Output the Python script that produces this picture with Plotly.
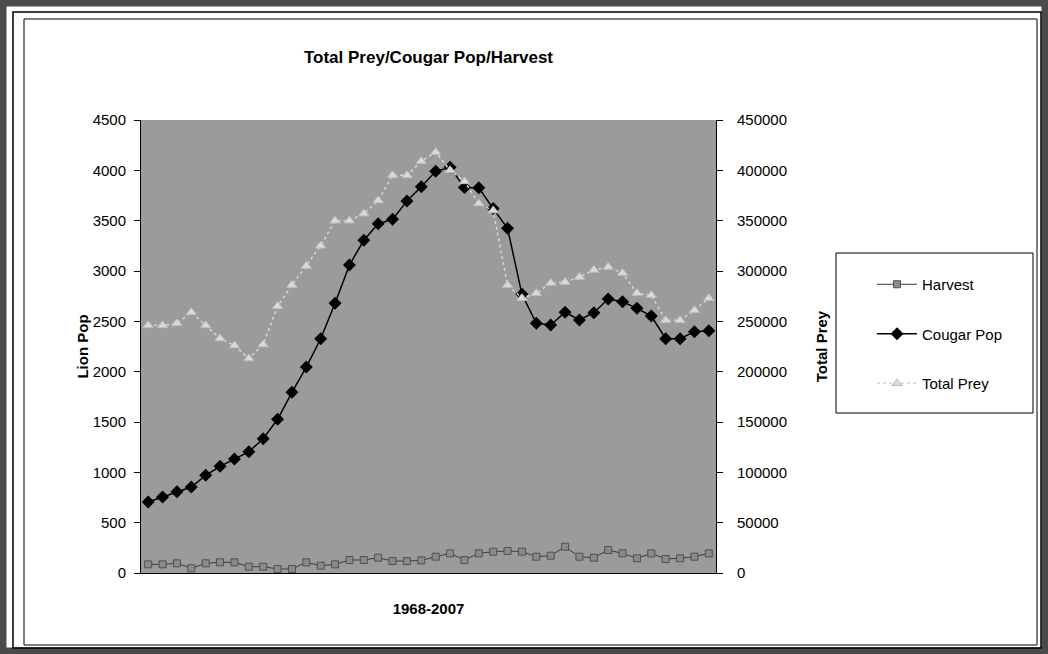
import plotly.graph_objects as go

years = list(range(1968, 2008))
harvest = [86, 86, 96, 47, 96, 106, 106, 63, 63, 40, 40, 106, 73, 86, 129, 129, 152, 119, 119, 125,
           162, 195, 129, 195, 212, 218, 212, 162, 172, 261, 162, 152, 228, 195, 146, 195, 139, 146, 162, 195]
cougar = [705, 755, 808, 854, 970, 1060, 1132, 1205, 1334, 1527, 1795, 2046, 2327, 2679, 3060, 3305, 3470, 3513, 3695, 3837,
          3990, 4030, 3830, 3827, 3620, 3424, 2768, 2480, 2463, 2590, 2513, 2586, 2722, 2695, 2629, 2553, 2327, 2327, 2397, 2407]
prey = [246000, 246000, 248000, 259000, 246000, 233000, 226000, 213000, 227000, 265000,
        286000, 305000, 325000, 350000, 350000, 357000, 370000, 395000, 395000, 409000,
        418000, 400000, 389000, 367000, 360000, 286000, 273000, 278000, 288000, 289000,
        294000, 301000, 304000, 298000, 278000, 276000, 251000, 251000, 261000, 273000]

W, H = 1048, 654
L, R, T, B = 141, 716, 120, 573


def fx(px):
    return (px - L) / (R - L)


def fy(py):
    return (B - py) / (B - T)


fig = go.Figure()
fig.add_trace(go.Scatter(
    x=years, y=harvest, name="Harvest", mode="lines+markers", legendgroup="h",
    line=dict(color="#3c3c3c", width=1),
    marker=dict(symbol="square", size=7, color="#8a8a8a", line=dict(color="#505050", width=1))))
fig.add_trace(go.Scatter(
    x=years, y=cougar, name="Cougar Pop", mode="lines+markers", legendgroup="c",
    line=dict(color="black", width=1.5),
    marker=dict(symbol="diamond", size=10, color="black")))
fig.add_trace(go.Scatter(
    x=years, y=prey, name="Total Prey", mode="lines+markers", yaxis="y2", legendgroup="p",
    line=dict(color="#d6d6d6", width=1.5, dash="dot"),
    marker=dict(symbol="triangle-up", size=9, color="#dadada", line=dict(color="#bdbdbd", width=1))))

axis_common = dict(showgrid=False, zeroline=False, showline=True, linecolor="black", linewidth=1,
                   ticks="outside", ticklen=6, tickcolor="black", tickfont=dict(size=15))

shapes = [
    # outer dark frame
    dict(type="rect", xref="paper", yref="paper", x0=fx(3), x1=fx(1045), y0=fy(651), y1=fy(3),
         line=dict(color="#4a4a4a", width=7), layer="above"),
    dict(type="rect", xref="paper", yref="paper", x0=fx(13), x1=fx(1041), y0=fy(648), y1=fy(12),
         line=dict(color="black", width=1.5), layer="above"),
    dict(type="rect", xref="paper", yref="paper", x0=fx(24), x1=fx(1037), y0=fy(645), y1=fy(19),
         line=dict(color="black", width=1), layer="above"),
    # legend box
    dict(type="rect", xref="paper", yref="paper", x0=fx(836), x1=fx(1033), y0=fy(413), y1=fy(253),
         line=dict(color="black", width=1), layer="above"),
]

fig.update_layout(
    width=W, height=H,
    margin=dict(l=L, r=W - R, t=T, b=H - B),
    paper_bgcolor="white", plot_bgcolor="#9b9b9b",
    font=dict(family="Arial, Liberation Sans, sans-serif", size=15, color="black"),
    title=dict(text="<b>Total Prey/Cougar Pop/Harvest</b>", x=0.5, xref="paper", xanchor="center",
               y=1 - 57 / H, yref="container", yanchor="middle", font=dict(size=17)),
    xaxis=dict(range=[1967.5, 2007.5], showticklabels=False, ticks="", showgrid=False, zeroline=False,
               showline=True, linecolor="black", linewidth=1,
               title=dict(text="<b>1968-2007</b>", standoff=30, font=dict(size=15))),
    yaxis=dict(range=[0, 4500], tick0=0, dtick=500, tickformat="d", ticklabelstandoff=5, **axis_common,
               title=dict(text="<b>Lion Pop</b>", standoff=0, font=dict(size=15))),
    yaxis2=dict(range=[0, 450000], tick0=0, dtick=50000, tickformat="d", ticklabelstandoff=11,
                overlaying="y", side="right", **axis_common,
                title=dict(text="<b>Total Prey</b>", standoff=30, font=dict(size=15))),
    legend=dict(x=fx(872), y=fy(268), xref="paper", yref="paper", xanchor="left", yanchor="top",
                bgcolor="rgba(0,0,0,0)", borderwidth=0, traceorder="grouped", tracegroupgap=27,
                font=dict(size=15), itemwidth=40),
    shapes=shapes,
    showlegend=True,
)

fig.write_html("out.html", config={"displayModeBar": False},
               post_script="document.body.style.margin='0';document.body.style.padding='0';")
